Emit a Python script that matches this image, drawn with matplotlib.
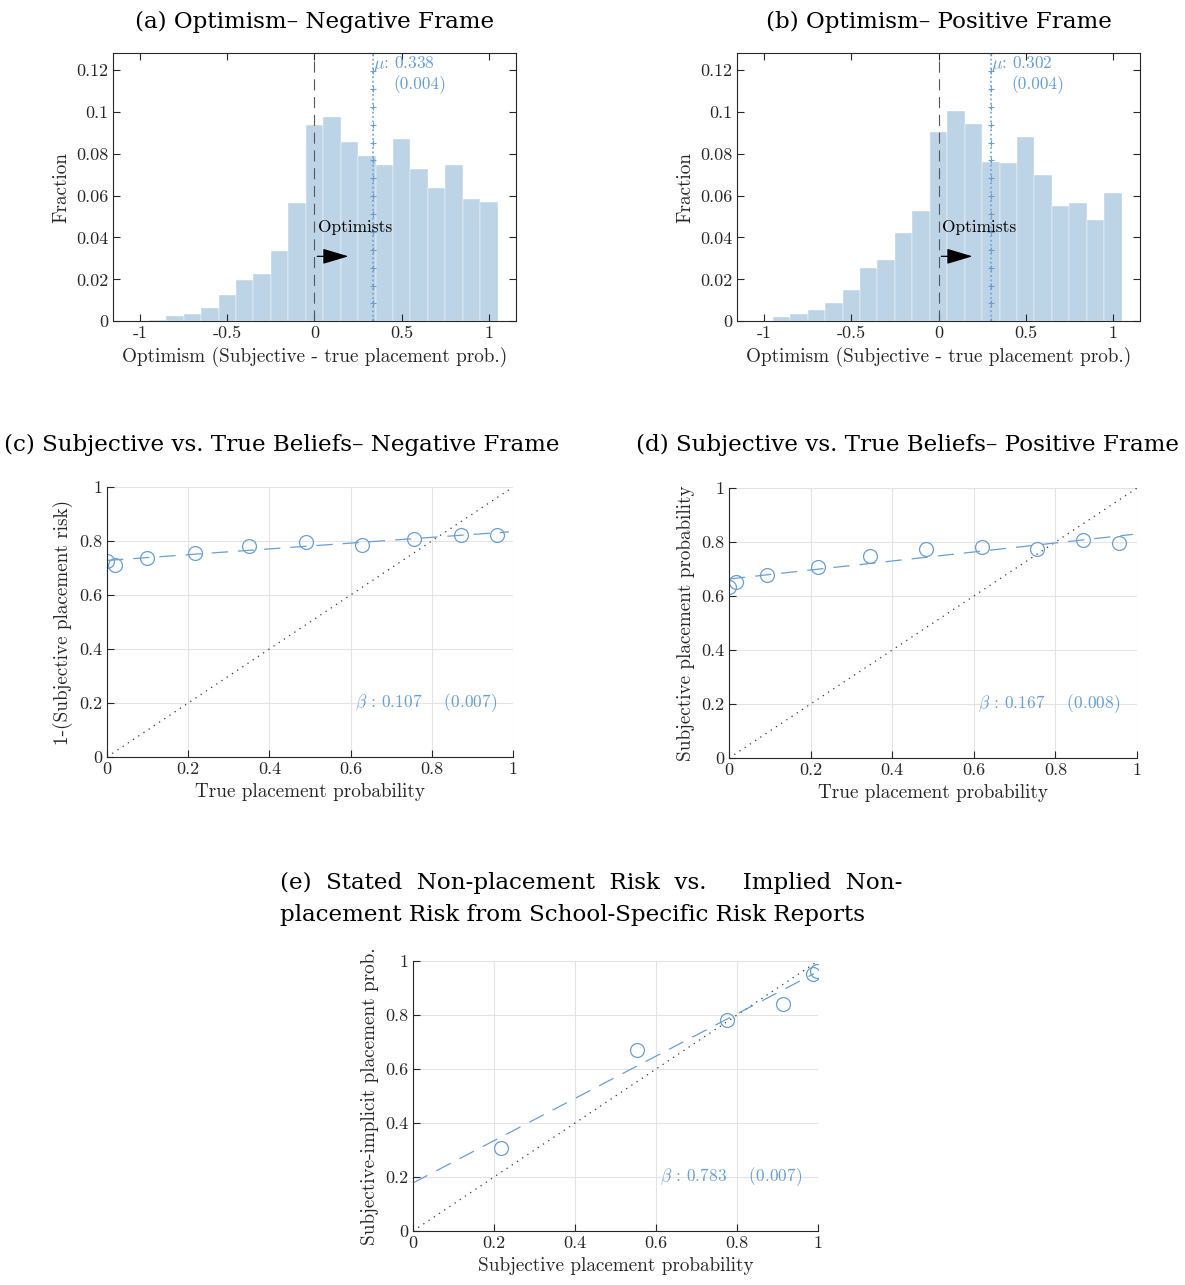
import numpy as np
import matplotlib
matplotlib.use('Agg')
import matplotlib.pyplot as plt

# -----------------------------
# data
# -----------------------------

bin_centers = [-1.0, -0.9, -0.8, -0.7, -0.6, -0.5, -0.4, -0.3, -0.2, -0.1, 0.0,
               0.1, 0.2, 0.3, 0.4, 0.5, 0.6, 0.7, 0.8, 0.9, 1.0]

frac_neg = [0.0002, 0.0008, 0.0027, 0.0036, 0.0061, 0.0125, 0.0196, 0.0227, 0.0336,
            0.0566, 0.0937, 0.0973, 0.0856, 0.0788, 0.0744, 0.0870, 0.0725, 0.0634,
            0.0744, 0.0582, 0.0568]
frac_pos = [0.0003, 0.0020, 0.0037, 0.0054, 0.0086, 0.0151, 0.0254, 0.0291, 0.0421,
            0.0528, 0.0902, 0.1005, 0.0941, 0.0761, 0.0756, 0.0878, 0.0699, 0.0550,
            0.0563, 0.0483, 0.0611]
mean_neg, se_neg = 0.338, 0.004
mean_pos, se_pos = 0.302, 0.004

# binned scatter: true prob vs subjective
true_c = [0.0, 0.020, 0.098, 0.217, 0.350, 0.489, 0.627, 0.756, 0.873, 0.961]
subj_c = [0.727, 0.711, 0.738, 0.757, 0.783, 0.797, 0.786, 0.807, 0.821, 0.823]
beta_c, se_c, icpt_c = 0.107, 0.007, 0.728

true_d = [0.0, 0.016, 0.092, 0.218, 0.346, 0.483, 0.621, 0.754, 0.867, 0.957]
subj_d = [0.635, 0.652, 0.679, 0.709, 0.747, 0.773, 0.780, 0.774, 0.808, 0.796]
beta_d, se_d, icpt_d = 0.167, 0.008, 0.663

subj_e = [0.217, 0.552, 0.775, 0.914, 0.988, 0.998]
impl_e = [0.309, 0.670, 0.780, 0.842, 0.953, 0.964]
beta_e, se_e, icpt_e = 0.783, 0.007, 0.178

# -----------------------------
# style
# -----------------------------

plt.rcParams['font.family'] = ['cmr10', 'DejaVu Serif']
plt.rcParams['mathtext.fontset'] = 'cm'
plt.rcParams['axes.unicode_minus'] = False
plt.rcParams['axes.formatter.use_mathtext'] = True

bar_col = '#bdd4e7'
blue = '#6a9fd1'
axcol = '#262626'
title_font = dict(family='DejaVu Serif', fontsize=16.6)

fig = plt.figure(figsize=(11.85, 12.85), dpi=100)


def style_axes(ax):
    ax.tick_params(direction='in', top=True, right=True, labelsize=13,
                   colors=axcol, length=5, width=0.8)
    for s in ax.spines.values():
        s.set_color(axcol)
        s.set_linewidth(0.8)


def hist_panel(rect, frac, mu, se, title):
    ax = fig.add_axes(rect)
    ax.bar(bin_centers, frac, width=0.1, color=bar_col, edgecolor='white', linewidth=0.3)
    ax.axvline(0, color='#555555', linestyle=(0, (10, 6)), linewidth=0.8)
    ax.plot([mu, mu], [0, 0.13], color=blue, linestyle=':', linewidth=1.2)
    ax.plot([mu] * 16, np.linspace(0, 0.128, 16), color=blue, linestyle='none',
            marker='+', markersize=4, markeredgewidth=0.8)
    ax.text(mu, 0.123, r'$\mu$: %.3f' % mu, color=blue, fontsize=12.5, va='center')
    ax.text(mu + 0.115, 0.113, '(%.3f)' % se, color=blue, fontsize=12.5, va='center')
    ax.annotate('', xy=(0.21, 0.031), xytext=(0, 0.031),
                arrowprops=dict(arrowstyle='-|>,head_length=1.0,head_width=0.3',
                                color='black', lw=0.9, mutation_scale=16))
    ax.text(0.02, 0.045, 'Optimists', fontsize=12.5, va='center')
    ax.set_xlim(-1.155, 1.155)
    ax.set_ylim(0, 0.128)
    ax.set_xticks([-1, -0.5, 0, 0.5, 1])
    ax.set_xticklabels(['-1', '-0.5', '0', '0.5', '1'])
    ax.set_yticks([0, 0.02, 0.04, 0.06, 0.08, 0.1, 0.12])
    ax.set_yticklabels(['0', '0.02', '0.04', '0.06', '0.08', '0.1', '0.12'])
    ax.set_xlabel('Optimism (Subjective - true placement prob.)', fontsize=13.8, color=axcol)
    ax.set_ylabel('Fraction', fontsize=13.8, color=axcol)
    style_axes(ax)
    ax.set_title(title, pad=18, **title_font)
    return ax


def scatter_panel(rect, x, y, beta, se, icpt, xlab, ylab):
    ax = fig.add_axes(rect)
    ax.grid(True, color='#e3e3e3', linewidth=0.8)
    ax.set_axisbelow(True)
    ax.plot([0, 1], [0, 1], color='#333333', linestyle=(0, (1, 4)), linewidth=0.9)
    xx = np.array([0, 0.99])
    ax.plot(xx, icpt + beta * xx, color=blue, linestyle=(0, (13, 8)), linewidth=0.9)
    ax.plot(x, y, linestyle='none', marker='o', markersize=10, markerfacecolor='none',
            markeredgecolor=blue, markeredgewidth=0.9)
    ax.text(0.96, 0.2, r'$\beta$ : %.3f    (%.3f)' % (beta, se), color=blue,
            fontsize=12.5, ha='right', va='center')
    ax.set_xlim(0, 1)
    ax.set_ylim(0, 1)
    ticks = [0, 0.2, 0.4, 0.6, 0.8, 1]
    tl = ['0', '0.2', '0.4', '0.6', '0.8', '1']
    ax.set_xticks(ticks)
    ax.set_xticklabels(tl)
    ax.set_yticks(ticks)
    ax.set_yticklabels(tl)
    ax.set_xlabel(xlab, fontsize=13.8, color=axcol)
    ax.set_ylabel(ylab, fontsize=13.8, color=axcol)
    style_axes(ax)
    ax.tick_params(top=False, right=False)
    ax.spines['top'].set_visible(False)
    ax.spines['right'].set_visible(False)
    return ax


# -----------------------------
# histograms
# -----------------------------

hist_panel([0.0954, 0.750, 0.340, 0.2086], frac_neg, mean_neg, se_neg,
           '(a) Optimism\u2013 Negative Frame')
hist_panel([0.622, 0.750, 0.340, 0.2086], frac_pos, mean_pos, se_pos,
           '(b) Optimism\u2013 Positive Frame')

# -----------------------------
# binned scatters
# -----------------------------

ax_c = scatter_panel([0.0903, 0.4109, 0.3426, 0.2101], true_c, subj_c, beta_c, se_c, icpt_c,
                     'True placement probability', '1-(Subjective placement risk)')
ax_d = scatter_panel([0.6152, 0.4101, 0.3443, 0.2101], true_d, subj_d, beta_d, se_d, icpt_d,
                     'True placement probability', 'Subjective placement probability')
ax_e = scatter_panel([0.3485, 0.042, 0.3418, 0.2101], subj_e, impl_e, beta_e, se_e, icpt_e,
                     'Subjective placement probability', 'Subjective-implicit placement prob.')

fig.text(282 / 1185, 1 - 445 / 1285, '(c) Subjective vs. True Beliefs\u2013 Negative Frame',
         ha='center', va='center', **title_font)
fig.text(907 / 1185, 1 - 445 / 1285, '(d) Subjective vs. True Beliefs\u2013 Positive Frame',
         ha='center', va='center', **title_font)
fig.text(280 / 1185, 1 - 883 / 1285,
         '(e)  Stated  Non-placement  Risk  vs.     Implied  Non-',
         ha='left', va='center', **title_font)
fig.text(280 / 1185, 1 - 915 / 1285,
         'placement Risk from School-Specific Risk Reports',
         ha='left', va='center', **title_font)

fig.savefig('out.png', dpi=100)
